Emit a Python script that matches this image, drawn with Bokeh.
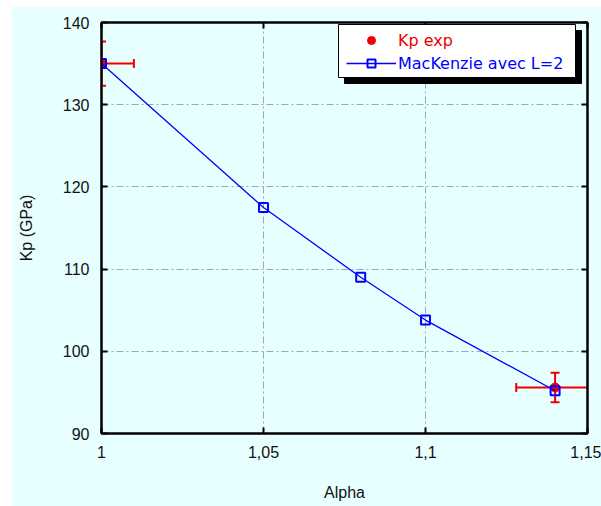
import math
from bokeh.plotting import figure
from bokeh.models import (ColumnDataSource, Legend, LegendItem, LinearAxis, FixedTicker,
                          CustomJSTickFormatter, Range1d, BoxAnnotation)
from bokeh.embed import file_html
from bokeh.resources import INLINE

# ---------------- data ----------------
alpha_exp = [1.0, 1.14]
kp_exp = [135.0, 95.6]
kp_exp_err = [2.7, 1.8]
alpha_exp_err = [0.01, 0.012]

alpha_mk = [1.0, 1.05, 1.08, 1.1, 1.14]
kp_mk = [135.0, 117.5, 109.0, 103.8, 95.2]

x_ticks = [1.0, 1.05, 1.1, 1.15]
y_ticks = [90, 100, 110, 120, 130, 140]

RED = "#EE0000"
BLUE = "#0000FF"
BG = "#E8FFFF"
FONT = "Liberation Sans"

X_MIN, X_MAX = 1.0, 1.15
Y_MIN, Y_MAX = 90, 140

p = figure(width=590, height=500, output_backend="svg", toolbar_location=None,
           x_range=Range1d(X_MIN, X_MAX), y_range=Range1d(Y_MIN, Y_MAX),
           min_border_left=90, min_border_right=14, min_border_top=16, min_border_bottom=73,
           background_fill_color=BG, border_fill_color=BG)
p.margin = (6, 0, 0, 11)

p.outline_line_color = "black"
p.outline_line_width = 2

# grid
for g in (p.xgrid, p.ygrid):
    g.grid_line_color = "#9AA6BA"
    g.grid_line_dash = "7 3 2 3"
    g.grid_line_width = 1
p.xgrid.ticker = FixedTicker(ticks=x_ticks)
p.ygrid.ticker = FixedTicker(ticks=y_ticks)

fmt = CustomJSTickFormatter(code="return (Math.round(tick*100)/100).toString().replace('.', ',');")
blank = CustomJSTickFormatter(code="return '';")

def style_axis(ax, ticks):
    ax.ticker = FixedTicker(ticks=ticks)
    ax.axis_line_color = "black"
    ax.axis_line_width = 2
    ax.major_tick_in = 6
    ax.major_tick_out = 0
    ax.major_tick_line_width = 2
    ax.major_tick_line_color = "black"
    ax.minor_tick_line_color = None
    ax.major_label_text_font = FONT
    ax.major_label_text_font_size = "16px"
    ax.major_label_text_color = "#111111"
    ax.axis_label_text_font = FONT
    ax.axis_label_text_font_size = "16px"
    ax.axis_label_text_font_style = "normal"
    ax.axis_label_text_color = "#111111"

xa = p.xaxis[0]
style_axis(xa, x_ticks)
xa.formatter = fmt
xa.axis_label = "Alpha"
xa.major_label_standoff = 12
xa.axis_label_standoff = 23

ya = p.yaxis[0]
style_axis(ya, y_ticks)
ya.axis_label = "Kp (GPa)"
ya.major_label_standoff = 12
ya.axis_label_standoff = 25

ra = LinearAxis()
style_axis(ra, y_ticks)
ra.formatter = blank
ra.major_label_text_color = None
ra.major_label_standoff = 0
p.add_layout(ra, "right")

ta = LinearAxis()
style_axis(ta, x_ticks)
ta.formatter = blank
ta.major_label_text_color = None
ta.major_label_standoff = 0
p.add_layout(ta, "above")

# ---------------- error bars ----------------
src_exp = ColumnDataSource(dict(
    x=alpha_exp, y=kp_exp,
    xl=[a - e for a, e in zip(alpha_exp, alpha_exp_err)],
    xu=[a + e for a, e in zip(alpha_exp, alpha_exp_err)],
    yl=[k - e for k, e in zip(kp_exp, kp_exp_err)],
    yu=[k + e for k, e in zip(kp_exp, kp_exp_err)],
))
p.segment(x0="xl", y0="y", x1="xu", y1="y", source=src_exp, line_color=RED, line_width=2)
p.segment(x0="x", y0="yl", x1="x", y1="yu", source=src_exp, line_color=RED, line_width=2)
for col in ("xl", "xu"):
    p.scatter(x=col, y="y", source=src_exp, marker="dash", angle=math.pi / 2, size=9,
              line_color=RED, line_width=2)
for col in ("yl", "yu"):
    p.scatter(x="x", y=col, source=src_exp, marker="dash", size=9,
              line_color=RED, line_width=2)

r_exp = p.scatter(x="x", y="y", source=src_exp, marker="circle", size=9,
                  fill_color=RED, line_color=RED)

# ---------------- model line ----------------
src_mk = ColumnDataSource(dict(x=alpha_mk, y=kp_mk))
r_line = p.line(x="x", y="y", source=src_mk, line_color=BLUE, line_width=1.3)
r_sq = p.scatter(x="x", y="y", source=src_mk, marker="square", size=9,
                 line_color=BLUE, line_width=2, fill_alpha=0)

# ---------------- legend box with shadow ----------------
def dx(px):
    return X_MIN + (px - 101) * (X_MAX - X_MIN) / 486.0

def dy(py):
    return Y_MAX - (py - 22) * (Y_MAX - Y_MIN) / 411.0

shadow = BoxAnnotation(left=dx(344), right=dx(581), top=dy(30), bottom=dy(83),
                       fill_color="black", fill_alpha=1, line_color="black", line_alpha=1)
box = BoxAnnotation(left=dx(338), right=dx(575), top=dy(24), bottom=dy(77),
                    fill_color="white", fill_alpha=1, line_color="black", line_width=1, line_alpha=1)
p.add_layout(shadow)
p.add_layout(box)

def make_legend(items, color, loc):
    lg = Legend(items=items, location=loc, orientation="vertical",
                background_fill_alpha=0, border_line_alpha=0,
                padding=8, margin=0, spacing=0,
                glyph_width=50, glyph_height=20, label_height=20, label_standoff=2,
                label_text_font="DejaVu Sans", label_text_font_size="16px", label_text_color=color)
    p.add_layout(lg, "center")
    return lg

make_legend([LegendItem(label="Kp exp", renderers=[r_exp])], RED, (237, 375))
make_legend([LegendItem(label="MacKenzie avec L=2", renderers=[r_line, r_sq])], BLUE, (237, 352))

open("out.html", "w").write(file_html(p, INLINE))
